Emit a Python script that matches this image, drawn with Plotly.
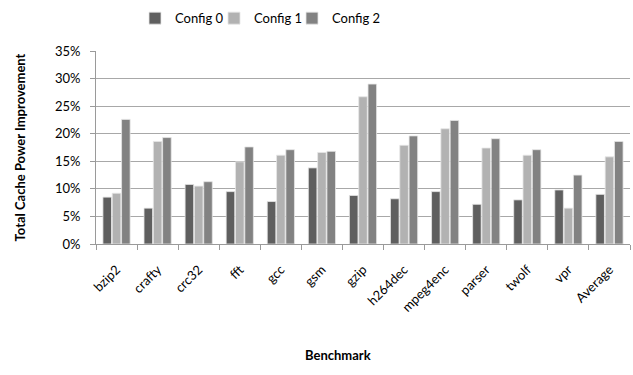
import plotly.graph_objects as go

benchmarks = ["bzip2", "crafty", "crc32", "fft", "gcc", "gsm", "gzip", "h264dec",
              "mpeg4enc", "parser", "twolf", "vpr", "Average"]
config0 = [8.5, 6.5, 10.8, 9.5, 7.7, 13.8, 8.8, 8.2, 9.5, 7.2, 8.0, 9.8, 9.0]
config1 = [9.2, 18.6, 10.5, 14.9, 16.1, 16.6, 26.7, 17.9, 20.9, 17.4, 16.1, 6.5, 15.8]
config2 = [22.6, 19.3, 11.3, 17.6, 17.1, 16.8, 29.0, 19.6, 22.4, 19.1, 17.1, 12.5, 18.6]
series_names = ["Config 0", "Config 1", "Config 2"]
colors = ["#5f5f5f", "#b2b2b2", "#828282"]
y_ticks = [0, 5, 10, 15, 20, 25, 30, 35]
y_tick_labels = [f"{v}%" for v in y_ticks]

font_family = "Lato, Liberation Sans, Arial, sans-serif"
legend_ids = ["legend", "legend2", "legend3"]
legend_left_px = [135, 214, 292]

fig = go.Figure()
for name, vals, col, lg in zip(series_names, [config0, config1, config2], colors, legend_ids):
    fig.add_trace(go.Bar(
        x=benchmarks, y=vals, name=name, legend=lg,
        marker=dict(color=col, line=dict(color="#e6e6e6", width=0.8)),
    ))

legend_common = dict(orientation="h", y=1.17, yanchor="middle", xanchor="left",
                     font=dict(size=13), itemwidth=30, bgcolor="rgba(0,0,0,0)")

fig.update_layout(
    width=633, height=375,
    margin=dict(l=96, r=3, t=46, b=131),
    paper_bgcolor="white", plot_bgcolor="white",
    barmode="group", bargap=0.32, bargroupgap=0.08,
    font=dict(family=font_family, size=13, color="#000000"),
    showlegend=True,
    xaxis=dict(
        tickangle=-45, showline=True, linecolor="#9a9a9a", linewidth=1,
        ticks="outside", ticklen=5, tickcolor="#9a9a9a",
        tickson="boundaries", showgrid=False, ticklabelstandoff=12,
        tickfont=dict(size=13), automargin=False,
    ),
    yaxis=dict(
        range=[0, 35], tickvals=y_ticks, ticktext=y_tick_labels,
        showgrid=True, gridcolor="#a8a8a8", gridwidth=1,
        showline=True, linecolor="#9a9a9a", linewidth=1,
        ticks="outside", ticklen=5, tickcolor="#9a9a9a", ticklabelstandoff=7,
        tickfont=dict(size=13), automargin=False,
        title=dict(text="<b>Total Cache Power Improvement</b>", font=dict(size=13), standoff=26),
        zeroline=False,
    ),
)
for lg, px in zip(legend_ids, legend_left_px):
    fig.update_layout({lg: dict(legend_common, x=(px - 96) / 534)})

fig.add_annotation(text="<b>Benchmark</b>", xref="paper", yref="paper",
                   x=(338 - 96) / 534, y=-(358 - 244) / 198, showarrow=False,
                   xanchor="center", yanchor="middle", font=dict(size=13))

fig.write_html("out.html", config={"displayModeBar": False},
               post_script="document.body.style.margin='0';document.body.style.padding='0';")
